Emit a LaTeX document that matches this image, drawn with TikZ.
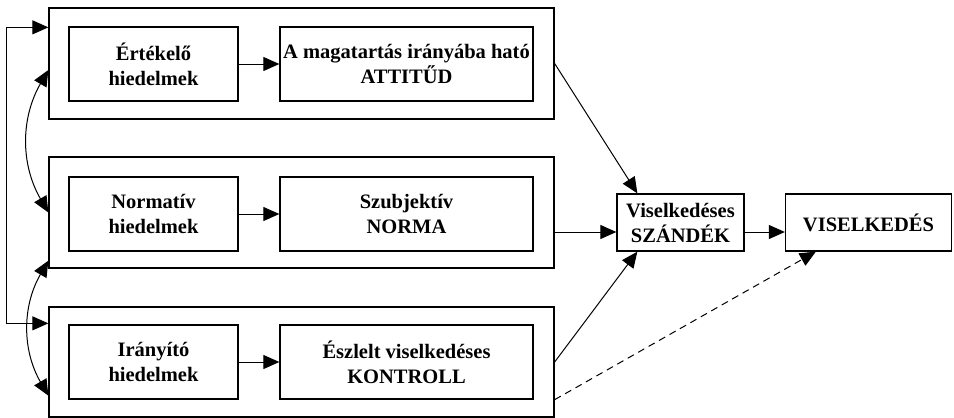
\documentclass[tikz,border=0pt]{standalone}
\usepackage{fontspec}
\setmainfont{Liberation Serif}
\usepackage{tikz}
\usetikzlibrary{arrows.meta}

\begin{document}
\begin{tikzpicture}[
                x=1pt, y=-1pt,
                group/.style={draw, line width=1.3pt, minimum width=505pt, minimum height=111pt}, % Outer frame of a row
                box/.style={draw, line width=1.3pt, minimum height=74pt, inner sep=2pt, align=center,
                            font=\bfseries\fontsize{20.5}{25}\selectfont}, % Text box
                arr/.style={line width=1pt, -{Triangle[length=16pt,width=14pt]}}, % Single arrow
                arr2/.style={line width=1pt, {Triangle[length=16pt,width=14pt]}-{Triangle[length=16pt,width=14pt]}} % Double arrow
                ]
                \useasboundingbox (0,0) rectangle (954,418);

                % outer frames
                \node[group] (otop) at (301.5,63.5) {};
                \node[group] (omid) at (301.5,212.5) {};
                \node[group, minimum height=110pt] (obot) at (301.5,362) {};

                % beliefs and their results
                \node[box, minimum width=169pt] (ertek) at (153.5,64) {Értékelő\\hiedelmek};
                \node[box, minimum width=253pt] (attit) at (406.5,64) {A magatartás irányába ható\\ATTITŰD};
                \node[box, minimum width=169pt] (norm) at (153.5,214) {Normatív\\hiedelmek};
                \node[box, minimum width=253pt] (szubj) at (406.5,214) {Szubjektív\\NORMA};
                \node[box, minimum width=169pt] (irany) at (153.5,362) {Irányító\\hiedelmek};
                \node[box, minimum width=253pt] (eszl) at (406.5,362) {Észlelt viselkedéses\\KONTROLL};

                \node[box, minimum width=127pt, minimum height=57pt] (szand) at (680.5,222.5) {Viselkedéses\\SZÁNDÉK};
                \node[box, minimum width=166pt, minimum height=57pt] (visel) at (868.5,222.5) {VISELKEDÉS};

                \draw[arr] (ertek) -- (attit);
                \draw[arr] (norm) -- (szubj);
                \draw[arr] (irany) -- (eszl);

                % links between rows
                \draw[arr2] ([yshift=-17pt]obot.north west) -- ++(-42,0) |- ([yshift=-20pt]otop.north west);
                \draw[arr2] ([yshift=-6.5pt]otop.west) to[bend right=30] (omid.west);
                \draw[arr2] ([yshift=8pt]omid.south west) to[bend right=30] ([yshift=22pt]obot.south west);

                % towards intention and behaviour
                \coordinate (szin) at ([yshift=-9.5pt]szand.west);
                \draw[arr] (otop.east) -- ([xshift=21pt]szand.north west);
                \draw[arr] (omid.east |- szin) -- (szin);
                \draw[arr] (obot.east) -- ([xshift=21pt]szand.south west);
                \draw[arr] (szin -| szand.east) -- (szin -| visel.west);
                \draw[arr, dash pattern=on 7pt off 5pt] ([yshift=18pt]obot.south east) -- ([xshift=31pt]visel.south west);
            \end{tikzpicture}
\end{document}
